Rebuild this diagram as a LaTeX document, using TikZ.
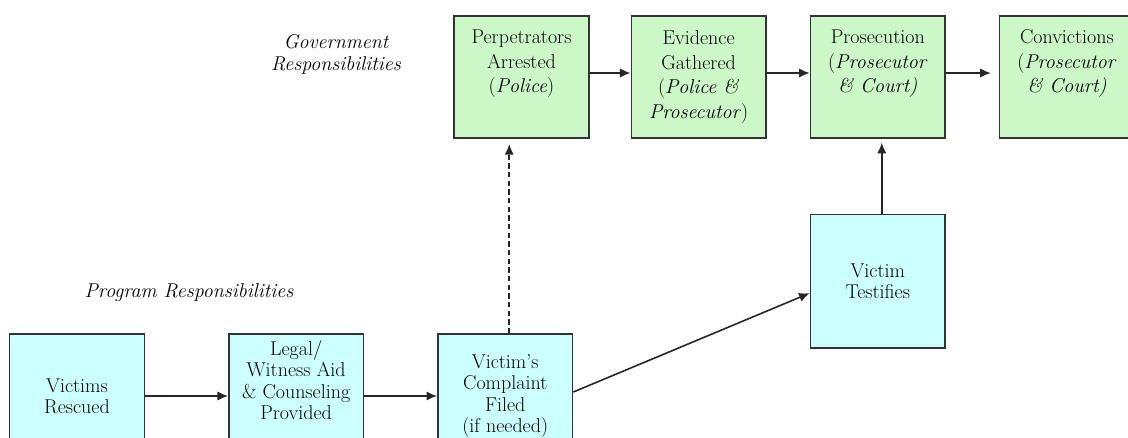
\documentclass[tikz,border=0pt]{standalone}
\usetikzlibrary{positioning,arrows.meta}
\definecolor{govgreen}{RGB}{204,248,200}
\definecolor{progblue}{RGB}{204,255,255}

\begin{document}
\begin{tikzpicture}[x=0.75pt, y=-0.75pt,
  nodes = {align=center, inner sep=2pt,
    font=\fontsize{15}{16}\selectfont},
  gov/.style = {draw=black!80, line width=1.1pt, fill=govgreen,
    minimum width=101pt, minimum height=91.5pt,
    font=\fontsize{15}{18.5}\selectfont},
  prog/.style = {draw=black!80, line width=1.1pt, fill=progblue,
    minimum width=101pt, minimum height=93pt},
  resp/.style = {draw=none, font=\fontsize{15}{16.5}\selectfont\itshape},
  arr/.style = {line width=1.2pt, black!85, -{Latex[length=8pt,width=7pt]}}
  ]
  \useasboundingbox (0,0) rectangle (1128,437);

  % government row
  \node (perp) [gov] at (521.5,77) {Perpetrators\\Arrested\\(\textit{Police})\\[5pt]};
  \node (evid) [gov, right=30.75pt of perp] {Evidence\\Gathered\\(\textit{Police \&}\\\textit{Prosecutor})};
  \node (pros) [gov, right=32.25pt of evid] {Prosecution\\(\textit{Prosecutor}\\\textit{\& Court)}\\[5pt]};
  \node (conv) [gov, right=39.75pt of pros] {Convictions\\(\textit{Prosecutor}\\\textit{\& Court)}\\[5pt]};
  \node (govlabel) [resp] at (336,54) {Government\\Responsibilities};

  % program row
  \node (testify) [prog, minimum height=100pt, below=56.25pt of pros] {Victim\\Testifies};
  \node (rescued) [prog] at (77,396) {Victims\\Rescued};
  \node (legal) [prog, right=62.25pt of rescued] {Legal/\\Witness Aid\\\& Counseling\\Provided\\[8pt]};
  \node (complaint) [prog, right=54.75pt of legal] {Victim's\\Complaint\\Filed\\(if needed)};
  \node (proglabel) [resp] at (189,293) {Program Responsibilities};

  \draw[arr] ([yshift=3pt]perp.east) -- ([yshift=3pt]evid.west);
  \draw[arr] ([yshift=3pt]evid.east) -- ([yshift=3pt]pros.west);
  \draw[arr, shorten >=6pt] ([yshift=3pt]pros.east) -- ([yshift=3pt]conv.west);
  \draw[arr] (rescued) -- (legal);
  \draw[arr] (legal) -- (complaint);
  \draw[arr] ([yshift=3pt]complaint.east) -- ([yshift=-9pt]testify.west);
  \draw[arr, shorten >=3pt] ([xshift=3pt]testify.north) -- ([xshift=3pt]testify.north |- pros.south);
  \draw[arr, dash pattern=on 4pt off 2.5pt, shorten >=4pt] ([xshift=3pt]complaint.north) -- ([xshift=3pt]complaint.north |- perp.south);
\end{tikzpicture}
\end{document}
